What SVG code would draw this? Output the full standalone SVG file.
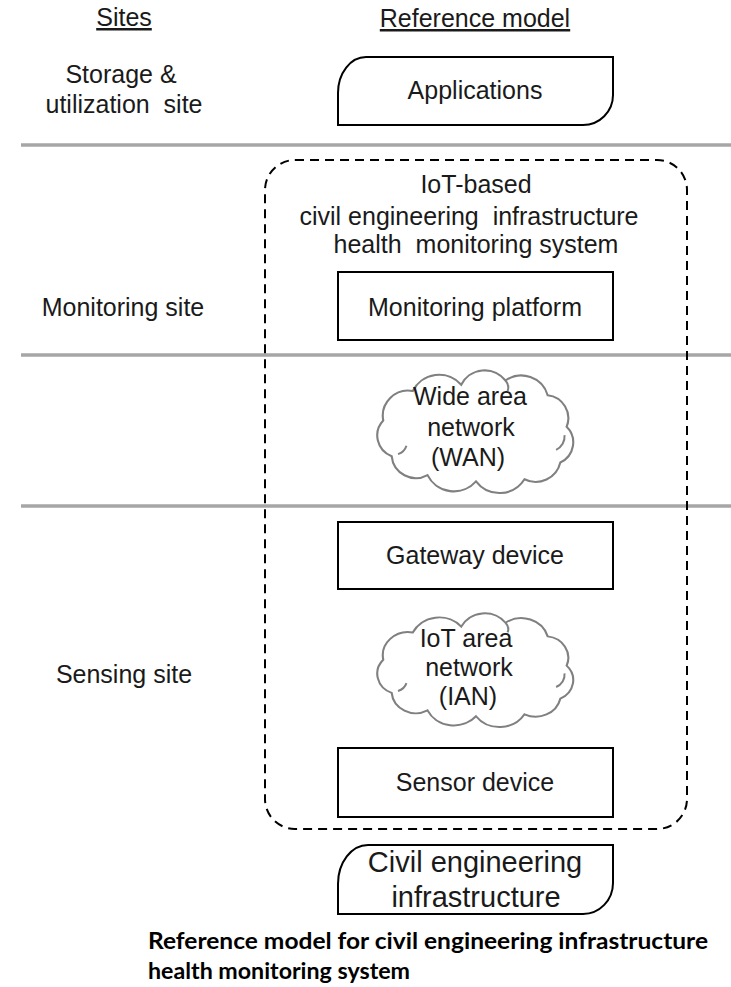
<svg xmlns="http://www.w3.org/2000/svg" width="731" height="987" viewBox="0 0 731 987">
<style>
  .t { font-family: "Liberation Sans", Arial, sans-serif; font-size: 25px; fill: #1a1a1a; text-anchor: middle; }
  .big { font-size: 29px; }
  .box { fill: #ffffff; stroke: #000000; stroke-width: 2; }
  .sep { stroke: #a6a6a6; stroke-width: 3.5; }
  .cloud { fill: #ffffff; stroke: #808080; stroke-width: 2; }
  .crease { fill: none; stroke: #808080; stroke-width: 2; }
  .cap { font-family: "Lato", "Open Sans", sans-serif; font-weight: bold; font-size: 22px; fill: #000000; }
</style>
<defs>
  <path id="cloudShape" d="M 12,52 A 24,24 0 0 1 40,24 A 28,28 0 0 1 86,18 A 25,25 0 0 1 128,14 A 26,26 0 0 1 168,28 A 22,22 0 0 1 186,58 A 21,21 0 0 1 180,92 A 24,24 0 0 1 146,108 A 28,28 0 0 1 100,110 A 28,28 0 0 1 54,104 A 23,23 0 0 1 20,86 A 21,21 0 0 1 12,52 Z"/>
</defs>

<!-- site separators -->
<g id="separators">
  <line class="sep" x1="21" y1="145" x2="731" y2="145"/>
  <line class="sep" x1="21" y1="355" x2="731" y2="355"/>
  <line class="sep" x1="21" y1="506" x2="731" y2="506"/>
</g>

<!-- headers -->
<g id="headers">
  <text class="t" x="124" y="26" text-decoration="underline">Sites</text>
  <text class="t" x="475" y="27" text-decoration="underline">Reference model</text>
</g>

<!-- site labels -->
<g id="site-storage">
  <text class="t" x="121" y="83">Storage &amp;</text>
  <text class="t" x="124" y="113" xml:space="preserve">utilization  site</text>
</g>
<g id="site-monitoring">
  <text class="t" x="123" y="316">Monitoring site</text>
</g>
<g id="site-sensing">
  <text class="t" x="124" y="683">Sensing site</text>
</g>

<!-- dashed system boundary -->
<g id="system">
  <rect x="265" y="160" width="422" height="669" rx="30" ry="30" fill="none" stroke="#000000" stroke-width="2" stroke-dasharray="9 6"/>
  <text class="t" x="476" y="193">IoT-based</text>
  <text class="t" x="469" y="225" xml:space="preserve">civil engineering  infrastructure</text>
  <text class="t" x="476" y="253" xml:space="preserve">health  monitoring system</text>
</g>

<g id="applications">
  <path class="box" d="M 366,57 L 613,57 L 613,95 A 30,30 0 0 1 583,125 L 338,125 L 338,93 A 28,36 0 0 1 366,57 Z"/>
  <text class="t" x="475" y="99">Applications</text>
</g>

<g id="monitoring-platform">
  <rect class="box" x="338" y="272" width="275" height="68"/>
  <text class="t" x="475" y="316">Monitoring platform</text>
</g>

<g id="wan">
  <g transform="translate(370.6,365.8) scale(1.054,1.051)">
    <use href="#cloudShape" class="cloud" vector-effect="non-scaling-stroke"/>
    <path class="crease" vector-effect="non-scaling-stroke" d="M 176,80 A 14,14 0 0 0 184,66"/>
    <path class="crease" vector-effect="non-scaling-stroke" d="M 26,84 A 12,12 0 0 0 34,76"/>
    <path class="crease" vector-effect="non-scaling-stroke" d="M 128,14 A 10,10 0 0 1 130,24"/>
  </g>
  <text class="t" x="470" y="405">Wide area</text>
  <text class="t" x="471" y="436">network</text>
  <text class="t" x="468" y="466">(WAN)</text>
</g>

<g id="gateway-device">
  <rect class="box" x="338" y="522" width="275" height="67"/>
  <text class="t" x="475" y="564">Gateway device</text>
</g>

<g id="ian">
  <g transform="translate(370.6,609.1) scale(1.054,0.974)">
    <use href="#cloudShape" class="cloud" vector-effect="non-scaling-stroke"/>
    <path class="crease" vector-effect="non-scaling-stroke" d="M 176,80 A 14,14 0 0 0 184,66"/>
    <path class="crease" vector-effect="non-scaling-stroke" d="M 26,84 A 12,12 0 0 0 34,76"/>
    <path class="crease" vector-effect="non-scaling-stroke" d="M 128,14 A 10,10 0 0 1 130,24"/>
  </g>
  <text class="t" x="466" y="647">IoT area</text>
  <text class="t" x="469" y="676">network</text>
  <text class="t" x="468" y="705">(IAN)</text>
</g>

<g id="sensor-device">
  <rect class="box" x="338" y="748" width="275" height="69"/>
  <text class="t" x="475" y="791">Sensor device</text>
</g>

<g id="civil-infrastructure">
  <path class="box" d="M 368,845 L 613,845 L 613,883 A 30,31 0 0 1 583,914 L 338,914 L 338,884 A 30,39 0 0 1 368,845 Z"/>
  <text class="t big" x="475" y="872">Civil engineering</text>
  <text class="t big" x="476" y="907">infrastructure</text>
</g>

<g id="connectors"></g>

<g id="caption">
  <text class="cap" x="148" y="949" textLength="560" lengthAdjust="spacingAndGlyphs">Reference model for civil engineering infrastructure</text>
  <text class="cap" x="148" y="979" textLength="262" lengthAdjust="spacingAndGlyphs">health monitoring system</text>
</g>
</svg>
